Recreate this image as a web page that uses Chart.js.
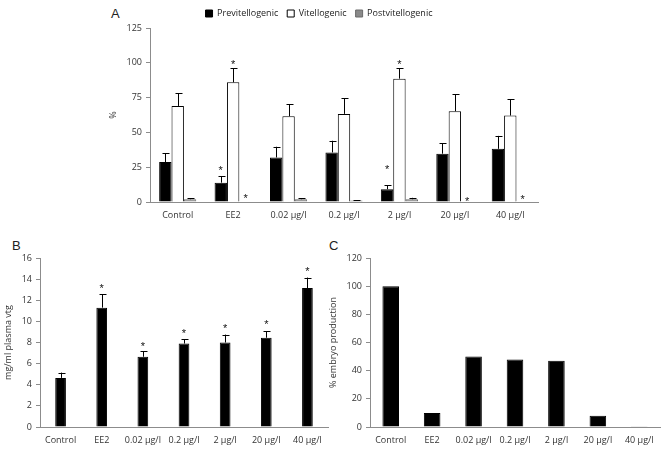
<!DOCTYPE html>
<html>
<head>
<meta charset="utf-8">
<script src="https://cdn.jsdelivr.net/npm/chart.js@4"></script>
<style>
  html, body { margin: 0; padding: 0; background: #fff; }
  body { width: 662px; height: 451px; position: relative; overflow: hidden; font-family: "Open Sans", "Liberation Sans", sans-serif; }
  .wrap { position: absolute; }
  .lbl { position: absolute; font-size: 13px; color: #222; font-family: "Liberation Sans", Arial, sans-serif; }
</style>
</head>
<body>
<div class="lbl" style="left:111px;top:6px;">A</div>
<div class="lbl" style="left:12px;top:238px;">B</div>
<div class="lbl" style="left:329px;top:238px;">C</div>
<div class="wrap" style="left:100px;top:0px;width:450px;height:225px;"><canvas id="cA"></canvas></div>
<div class="wrap" style="left:0px;top:230px;width:335px;height:221px;"><canvas id="cB"></canvas></div>
<div class="wrap" style="left:328px;top:230px;width:334px;height:221px;"><canvas id="cC"></canvas></div>
<script>
// ---------- data ----------
const categories = ["Control", "EE2", "0.02 µg/l", "0.2 µg/l", "2 µg/l", "20 µg/l", "40 µg/l"];

// Panel A (% oocyte stage)
const seriesNamesA = ["Previtellogenic", "Vitellogenic", "Postvitellogenic"];
const previtellogenic      = [28.7, 13.9, 32.0, 35.6, 9.2, 34.7, 38.2];
const previtellogenicErr   = [35.1, 18.6, 39.7, 44.0, 12.2, 42.3, 47.5];
const previtellogenicStar  = [null, 24.5, null, null, 25.5, null, null];
const vitellogenic         = [69.0, 86.0, 61.6, 63.3, 88.6, 65.2, 62.1];
const vitellogenicErr      = [78.0, 96.0, 70.2, 74.5, 96.0, 77.4, 73.8];
const vitellogenicStar     = [null, 100.5, null, null, 100.5, null, null];
const postvitellogenic     = [2.0, 0, 2.0, 1.0, 2.0, 0, 0];
const postvitellogenicErr  = [2.6, null, 2.6, 1.3, 3.0, null, null];
const postvitellogenicStar = [null, 4.0, null, null, null, 2.5, 3.5];
const ticksA = [0, 25, 50, 75, 100, 125];

// Panel B (mg/ml plasma vtg)
const vtg     = [4.65, 11.3, 6.65, 7.9, 8.0, 8.45, 13.15];
const vtgErr  = [5.15, 12.55, 7.15, 8.3, 8.75, 9.05, 14.15];
const vtgStar = [null, 13.35, 7.9, 9.05, 9.55, 9.9, 14.95];
const ticksB = [0, 2, 4, 6, 8, 10, 12, 14, 16];

// Panel C (% embryo production)
const embryo = [100, 10, 50, 48, 47, 8, 0.6];
const ticksC = [0, 20, 40, 60, 80, 100, 120];

// ---------- helpers ----------
const FONT = "'Open Sans', 'Liberation Sans', sans-serif";
const TXT = '#333';
const AXIS = '#8c8c8c';

const errorBarPlugin = {
  id: 'errorBars',
  afterDatasetsDraw(chart) {
    const ctx = chart.ctx;
    const y = chart.scales.y;
    chart.data.datasets.forEach((ds, i) => {
      const meta = chart.getDatasetMeta(i);
      ctx.save();
      ctx.strokeStyle = '#000';
      ctx.lineWidth = 1;
      meta.data.forEach((el, j) => {
        if (ds.errTop && ds.errTop[j] != null) {
          const x = Math.round(el.x) + 0.5;
          const yt = y.getPixelForValue(ds.errTop[j]);
          const yb = y.getPixelForValue(ds.data[j]);
          ctx.beginPath();
          ctx.moveTo(x, yb);
          ctx.lineTo(x, yt);
          ctx.moveTo(x - 3, Math.round(yt) + 0.5);
          ctx.lineTo(x + 4, Math.round(yt) + 0.5);
          ctx.stroke();
        }
        if (ds.star && ds.star[j] != null) {
          const ys = y.getPixelForValue(ds.star[j]);
          ctx.fillStyle = '#111';
          ctx.font = "11px 'Liberation Sans', sans-serif";
          ctx.textAlign = 'center';
          ctx.textBaseline = 'middle';
          ctx.fillText('*', el.x, ys + 3);
        }
      });
      ctx.restore();
    });
  }
};

function yAxis(ticks, title, width, titlePad) {
  return {
    min: ticks[0], max: ticks[ticks.length - 1],
    afterBuildTicks(scale) { scale.ticks = ticks.map(v => ({ value: v })); },
    afterFit(scale) { scale.width = width; },
    grid: { drawOnChartArea: false, drawTicks: true, tickLength: 4, color: AXIS },
    border: { display: true, color: AXIS, width: 1 },
    ticks: { color: TXT, font: { family: FONT, size: 9 }, padding: 4 },
    title: { display: true, text: title, color: TXT, font: { family: FONT, size: 9 }, padding: titlePad }
  };
}
function xAxis(height) {
  return {
    afterFit(scale) { scale.height = height; },
    grid: { display: false, drawTicks: false },
    border: { display: true, color: AXIS, width: 1 },
    ticks: { color: TXT, font: { family: FONT, size: 9 }, padding: 8, maxRotation: 0, autoSkip: false }
  };
}

// ---------- Panel A ----------
new Chart(document.getElementById('cA'), {
  type: 'bar',
  data: {
    labels: categories,
    datasets: [
      { label: seriesNamesA[0], data: previtellogenic, errTop: previtellogenicErr, star: previtellogenicStar,
        backgroundColor: '#000', borderColor: '#000', borderWidth: 1 },
      { label: seriesNamesA[1], data: vitellogenic, errTop: vitellogenicErr, star: vitellogenicStar,
        backgroundColor: '#fff', borderColor: '#000', borderWidth: 1 },
      { label: seriesNamesA[2], data: postvitellogenic, errTop: postvitellogenicErr, star: postvitellogenicStar,
        backgroundColor: '#8a8a8a', borderColor: '#6a6a6a', borderWidth: 1 }
    ]
  },
  options: {
    responsive: true, maintainAspectRatio: false, animation: false,
    layout: { padding: { left: 0, right: 12, top: 0, bottom: 0 } },
    categoryPercentage: 0.67, barPercentage: 1.0,
    plugins: {
      legend: {
        position: 'top',
        labels: { boxWidth: 7, boxHeight: 7, color: '#222', font: { family: FONT, size: 9 }, padding: 9 }
      },
      tooltip: { enabled: false }
    },
    scales: { x: xAxis(23), y: yAxis(ticksA, '%', 50, { top: 8, bottom: 10 }) }
  },
  plugins: [errorBarPlugin]
});

// ---------- Panel B ----------
new Chart(document.getElementById('cB'), {
  type: 'bar',
  data: {
    labels: categories,
    datasets: [
      { label: 'vtg', data: vtg, errTop: vtgErr, star: vtgStar, backgroundColor: '#000', borderColor: '#000', borderWidth: 1,
        categoryPercentage: 0.26, barPercentage: 1.0 }
    ]
  },
  options: {
    responsive: true, maintainAspectRatio: false, animation: false,
    layout: { padding: { left: 0, right: 7, top: 28, bottom: 0 } },
    plugins: { legend: { display: false }, tooltip: { enabled: false } },
    scales: { x: xAxis(24), y: yAxis(ticksB, 'mg/ml plasma vtg', 40, { top: 3, bottom: 1 }) }
  },
  plugins: [errorBarPlugin]
});

// ---------- Panel C ----------
new Chart(document.getElementById('cC'), {
  type: 'bar',
  data: {
    labels: categories,
    datasets: [
      { label: '% embryo production', data: embryo, backgroundColor: '#000', borderColor: '#000', borderWidth: 1,
        categoryPercentage: 0.4, barPercentage: 1.0 }
    ]
  },
  options: {
    responsive: true, maintainAspectRatio: false, animation: false,
    layout: { padding: { left: 0, right: 2, top: 28, bottom: 0 } },
    plugins: { legend: { display: false }, tooltip: { enabled: false } },
    scales: { x: xAxis(24), y: yAxis(ticksC, '% embryo production', 42, { top: 0, bottom: 2 }) }
  },
  plugins: [errorBarPlugin]
});
</script>
</body>
</html>
